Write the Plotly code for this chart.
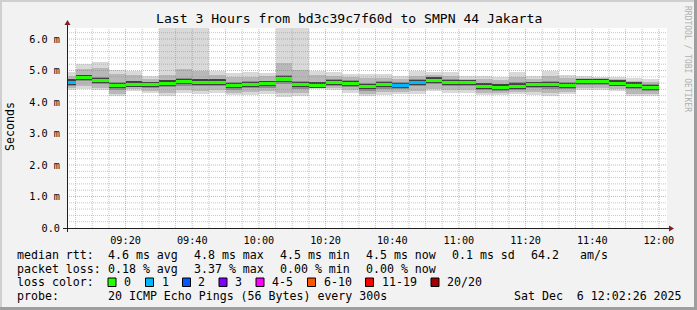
import numpy as np
import plotly.graph_objects as go

# ---------------- data ----------------
DAY = "2025-12-06 "
times = ["09:00", "09:05", "09:10", "09:15", "09:20", "09:25", "09:30", "09:35", "09:40",
         "09:45", "09:50", "09:55", "10:00", "10:05", "10:10", "10:15", "10:20", "10:25",
         "10:30", "10:35", "10:40", "10:45", "10:50", "10:55", "11:00", "11:05", "11:10",
         "11:15", "11:20", "11:25", "11:30", "11:35", "11:40", "11:45", "11:50", "11:55"]
# pings lost out of 20 per 5-minute step
loss = [1, 0, 0, 0, 0, 0, 0, 0, 0, 0, 0, 0, 0, 0, 0, 0, 0, 0,
        0, 0, 1, 1, 0, 0, 0, 0, 0, 0, 0, 0, 0, 0, 0, 0, 0, 0]
# round-trip times in ms
med = [4.63, 4.78, 4.68, 4.52, 4.57, 4.55, 4.60, 4.64, 4.63, 4.63, 4.52, 4.55, 4.58, 4.73, 4.55, 4.53, 4.62, 4.59,
       4.48, 4.55, 4.52, 4.62, 4.69, 4.62, 4.62, 4.50, 4.47, 4.50, 4.55, 4.55, 4.52, 4.65, 4.65, 4.60, 4.53, 4.46]
lo = [4.37, 4.41, 4.37, 4.18, 4.34, 4.29, 4.20, 4.29, 4.27, 4.30, 4.21, 4.23, 4.25, 4.16, 4.18, 4.41, 4.37, 4.30,
      4.20, 4.23, 4.26, 4.25, 4.34, 4.29, 4.30, 4.21, 4.23, 4.26, 4.23, 4.20, 4.25, 4.37, 4.37, 4.34, 4.18, 4.18]
p10 = [4.44, 4.52, 4.45, 4.27, 4.40, 4.36, 4.30, 4.38, 4.36, 4.38, 4.29, 4.31, 4.34, 4.30, 4.28, 4.45, 4.43, 4.37,
       4.27, 4.31, 4.33, 4.34, 4.42, 4.37, 4.38, 4.29, 4.30, 4.33, 4.31, 4.29, 4.32, 4.44, 4.44, 4.41, 4.27, 4.26]
p25 = [4.52, 4.66, 4.56, 4.39, 4.47, 4.43, 4.47, 4.52, 4.50, 4.51, 4.39, 4.43, 4.46, 4.58, 4.42, 4.50, 4.52, 4.47,
       4.35, 4.42, 4.40, 4.50, 4.56, 4.50, 4.50, 4.38, 4.36, 4.39, 4.43, 4.42, 4.40, 4.54, 4.55, 4.50, 4.40, 4.34]
p75 = [4.72, 4.86, 4.79, 4.64, 4.68, 4.65, 4.71, 4.76, 4.74, 4.73, 4.63, 4.66, 4.68, 4.86, 4.67, 4.64, 4.72, 4.69,
       4.60, 4.66, 4.62, 4.72, 4.78, 4.72, 4.70, 4.61, 4.58, 4.62, 4.65, 4.67, 4.63, 4.73, 4.72, 4.68, 4.62, 4.56]
p90 = [4.82, 5.05, 5.08, 4.88, 4.85, 4.74, 4.85, 5.05, 4.97, 4.86, 4.78, 4.80, 4.82, 5.24, 5.03, 4.86, 4.84, 4.78,
       4.76, 4.76, 4.72, 4.84, 4.86, 4.84, 4.74, 4.72, 4.70, 4.80, 4.74, 4.84, 4.76, 4.76, 4.75, 4.73, 4.68, 4.64]
hi = [4.94, 5.21, 5.26, 5.03, 5.00, 4.83, 9.00, 9.00, 9.00, 4.97, 4.92, 4.94, 4.93, 9.00, 9.00, 5.00, 4.96, 4.88,
      4.90, 4.88, 4.83, 4.97, 4.95, 4.96, 4.81, 4.81, 4.79, 4.95, 4.84, 5.00, 4.87, 4.81, 4.79, 4.79, 4.75, 4.72]

y_ticks = [0, 1, 2, 3, 4, 5, 6]
y_tick_text = ["0.0", "1.0 m", "2.0 m", "3.0 m", "4.0 m", "5.0 m", "6.0 m"]
x_start, x_end = "2025-12-06 09:02:26", "2025-12-06 12:02:26"

loss_labels = ["0", "1", "2", "3", "4-5", "6-10", "11-19", "20/20"]
loss_upper = [0, 1, 2, 3, 5, 10, 19, 20]
loss_colors = ["#26ff00", "#00b8ff", "#0059ff", "#7e00ff", "#ff00ff", "#ff5500", "#ff0000", "#a10000"]

title = "Last 3 Hours from bd3c39c7f60d to SMPN 44 Jakarta"
rtt_stats = ["4.6 ms avg", "4.8 ms max", "4.5 ms min", "4.5 ms now", "0.1 ms sd", "64.2", "am/s"]
loss_stats = ["0.18 % avg", "3.37 % max", "0.00 % min", "0.00 % now"]
probe_text = "20 ICMP Echo Pings (56 Bytes) every 300s"
stamp_text = "Sat Dec  6 12:02:26 2025"

# ---------------- layout geometry (pixels) ----------------
W, H = 697, 310
L, T = 67, 28
PW, PH = 600, 200
R, B = W - L - PW, H - T - PH
YMAX = PH / 31.5


def px(xp):
    return (xp - L) / PW


def py(yp):
    return (T + PH - yp) / PH


def loss_color(n):
    for ub, c in zip(loss_upper, loss_colors):
        if n <= ub:
            return c
    return loss_colors[-1]


MONO = "DejaVu Sans Mono"
fig = go.Figure()
xs = [DAY + t for t in times]
STEP = 300000


def band(low, high, color):
    low = np.asarray(low)
    high = np.asarray(high)
    fig.add_bar(x=xs, base=low, y=high - low, width=STEP, offset=0,
                marker=dict(color=color, line_width=0), hoverinfo="skip", showlegend=False)


band(lo, hi, "#d9d9d9")
band(p10, p90, "#b8b8b8")
band(p25, p75, "#8c8c8c")
m = np.asarray(med)
band(m - 0.08, m + 0.09, "#404040")
fig.add_bar(x=xs, base=m - 0.048, y=np.full(len(m), 0.096), width=STEP, offset=0,
            marker=dict(color=[loss_color(n) for n in loss], line_width=0),
            hoverinfo="skip", showlegend=False)

shapes = []
GRID = "rgba(144,144,144,0.5)"
MGRID = "rgba(224,80,80,0.5)"
DASH = "1px,1px"
# horizontal grid
for k in range(1, int(YMAX / 0.2) + 1):
    v = k * 0.2
    major = k % 5 == 0
    shapes.append(dict(type="line", xref="paper", yref="y", x0=0, x1=1, y0=v, y1=v, layer="above",
                       line=dict(color=MGRID if major else GRID, width=1, dash=DASH)))
# vertical grid
vt = np.arange(np.datetime64("2025-12-06T09:05"), np.datetime64("2025-12-06T12:01"), np.timedelta64(5, "m"))
for t in vt:
    minute = int(str(t)[14:16])
    major = minute % 20 == 0
    ts = str(t).replace("T", " ")
    shapes.append(dict(type="line", xref="x", yref="paper", x0=ts, x1=ts, y0=0, y1=1, layer="above",
                       line=dict(color=MGRID if major else GRID, width=1, dash=DASH)))
# axes lines + arrows
AX = "#202020"
ARROW = "#802020"
shapes.append(dict(type="line", xref="paper", yref="paper", x0=px(63), x1=px(670), y0=py(228.5), y1=py(228.5),
                   line=dict(color=AX, width=1), layer="above"))
shapes.append(dict(type="line", xref="paper", yref="paper", x0=px(67.5), x1=px(67.5), y0=py(232), y1=py(23),
                   line=dict(color=AX, width=1), layer="above"))
shapes.append(dict(type="path", xref="paper", yref="paper", layer="above",
                   path=f"M {px(669)} {py(225.5)} L {px(674)} {py(228.5)} L {px(669)} {py(231.5)} Z",
                   fillcolor=ARROW, line=dict(color=ARROW, width=0)))
shapes.append(dict(type="path", xref="paper", yref="paper", layer="above",
                   path=f"M {px(64.5)} {py(25)} L {px(67.5)} {py(20)} L {px(70.5)} {py(25)} Z",
                   fillcolor=ARROW, line=dict(color=ARROW, width=0)))
# 3D frame
shapes.append(dict(type="rect", xref="paper", yref="paper", x0=px(0), x1=px(W), y0=py(0), y1=py(2),
                   fillcolor="#cfcfcf", line_width=0, layer="above"))
shapes.append(dict(type="rect", xref="paper", yref="paper", x0=px(0), x1=px(2), y0=py(0), y1=py(H),
                   fillcolor="#cfcfcf", line_width=0, layer="above"))
shapes.append(dict(type="rect", xref="paper", yref="paper", x0=px(0), x1=px(W), y0=py(H - 3), y1=py(H),
                   fillcolor="#9e9e9e", line_width=0, layer="above"))
shapes.append(dict(type="rect", xref="paper", yref="paper", x0=px(W - 3), x1=px(W), y0=py(0), y1=py(H),
                   fillcolor="#9e9e9e", line_width=0, layer="above"))
# legend colour squares
sq_x = [108, 145.5, 182.5, 219, 256, 307.5, 365.5, 431]
for xx, c in zip(sq_x, loss_colors):
    shapes.append(dict(type="rect", xref="paper", yref="paper", x0=px(xx), x1=px(xx + 8),
                       y0=py(278), y1=py(286.5), fillcolor=c, line=dict(color="black", width=1), layer="above"))

ann = []


def text(s, x, y, size=11.6, anchor="left", color="black", angle=0):
    ann.append(dict(text=s.replace(" ", "&nbsp;"), x=px(x), y=py(y), xref="paper", yref="paper",
                    xanchor=anchor, yanchor="middle", showarrow=False, borderpad=0, textangle=angle,
                    font=dict(family=MONO, size=size, color=color)))


text(title, 348.5, 18.5, size=13.1, anchor="center")
text("Seconds", 10, 127, angle=-90, anchor="center")
text("RRDTOOL / TOBI OETIKER", 688, 59, size=8, anchor="center", color="#b0b0b0", angle=90)

ROWS = [255, 268.5, 282, 295.5]
text("median rtt:", 16, ROWS[0])
for s, x in zip(rtt_stats, [107, 193, 279, 365, 451, 530, 579]):
    text(s, x, ROWS[0])
text("packet loss:", 16, ROWS[1])
for s, x in zip(loss_stats, [107, 193, 279, 365]):
    text(s, x, ROWS[1])
text("loss color:", 16, ROWS[2])
for s, x in zip(loss_labels, [123, 160.5, 197, 234, 271, 322.5, 381, 445.5]):
    text(s, x, ROWS[2])
text("probe:", 16, ROWS[3])
text(probe_text, 107, ROWS[3])
text(stamp_text, 513, ROWS[3])

fig.update_layout(
    width=W, height=H, margin=dict(l=L, r=R, t=T, b=B, pad=0),
    paper_bgcolor="#f2f2f2", plot_bgcolor="white",
    barmode="overlay", bargap=0, showlegend=False,
    shapes=shapes, annotations=ann,
    xaxis=dict(type="date", range=[x_start, x_end], tick0="2025-12-06 09:00", dtick=20 * 60 * 1000,
               tickformat="%H:%M", showgrid=False, zeroline=False, showline=False, ticks="",
               ticklabelstandoff=5, tickfont=dict(family=MONO, size=10.2, color="black"), fixedrange=True),
    yaxis=dict(range=[0, YMAX], tickvals=y_ticks, ticktext=y_tick_text, showgrid=False, zeroline=False,
               showline=False, ticks="", ticklabelstandoff=6,
               tickfont=dict(family=MONO, size=10.2, color="black"), fixedrange=True),
)

fig.write_html("out.html", config={"displayModeBar": False})
